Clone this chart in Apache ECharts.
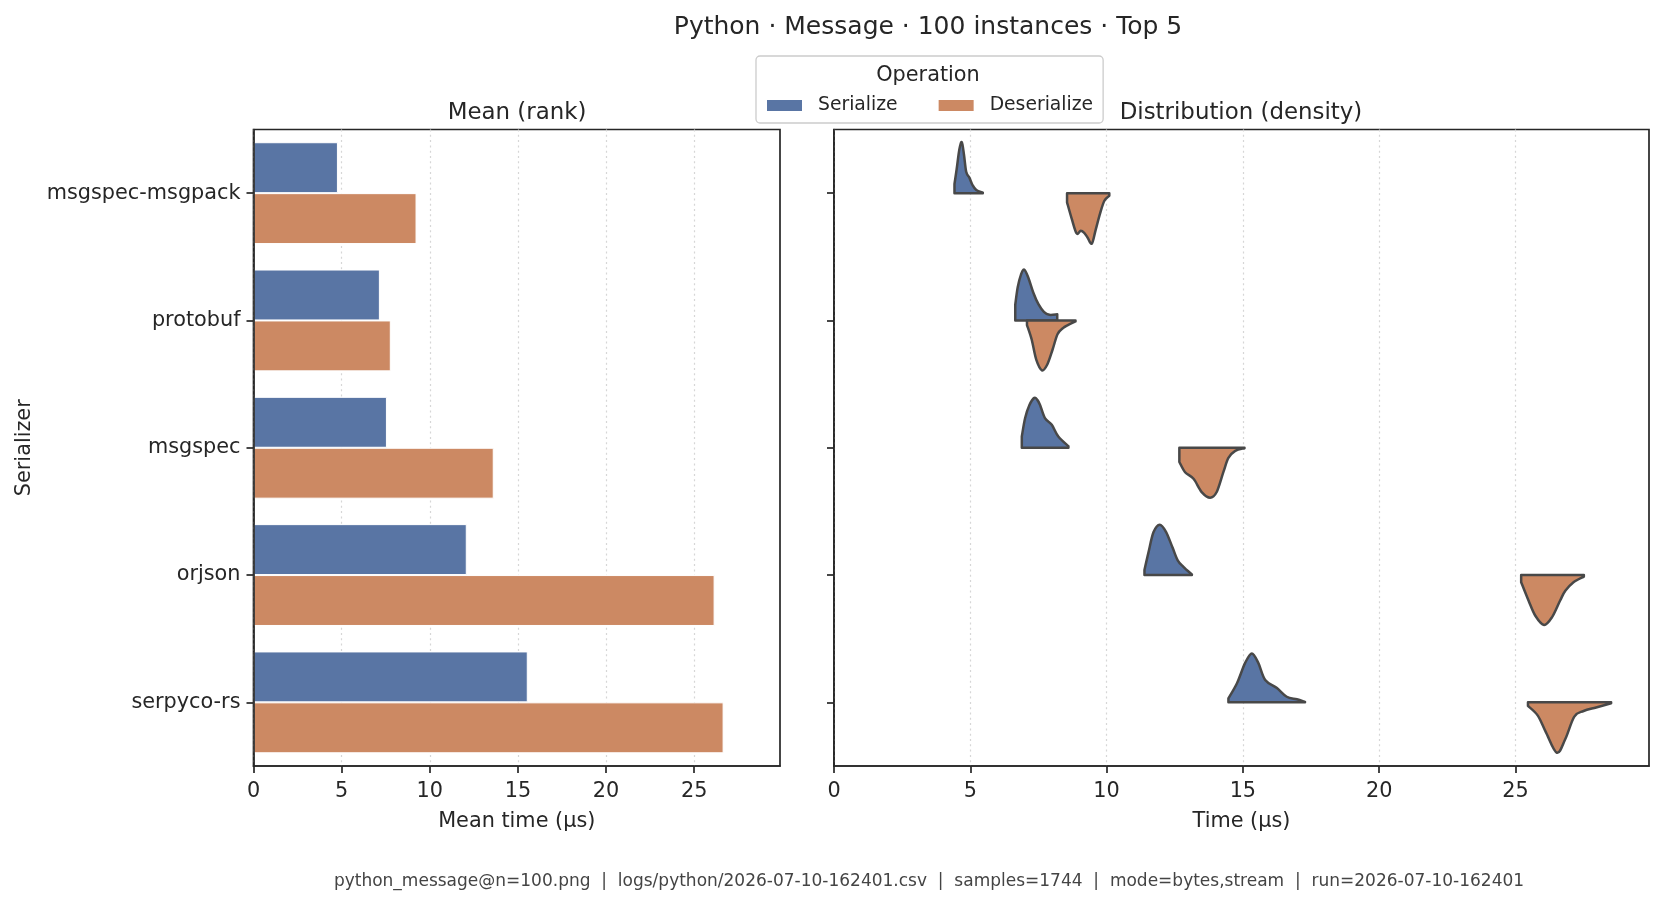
<!DOCTYPE html>
<html lang="en">
<head>
    <meta charset="UTF-8">
    <title>Python Message 100 instances</title>
    <script src="https://cdn.jsdelivr.net/npm/echarts@6.0.0/dist/echarts.min.js"></script>
    <style>
        html, body { margin: 0; padding: 0; background: #fff; }
    </style>
</head>
<body>
    <div id="chart" style="width: 1663px; height: 905px;"></div>
    <script>
        // categories and means (µs)
        const serializers = ['msgspec-msgpack', 'protobuf', 'msgspec', 'orjson', 'serpyco-rs'];
        const meanSerialize = [4.79, 7.17, 7.57, 12.10, 15.56];
        const meanDeserialize = [9.25, 7.79, 13.63, 26.16, 26.67];
        const xTicks = [0, 5, 10, 15, 20, 25];

        // density profiles: x = time (µs), d = relative density (peak = 1)
        const serializeX = [
            [4.42, 4.50, 4.60, 4.69, 4.77, 4.85, 4.97, 5.08, 5.22, 5.46],
            [6.65, 6.74, 6.86, 6.98, 7.13, 7.31, 7.50, 7.70, 7.90, 8.19],
            [6.89, 7.01, 7.17, 7.35, 7.46, 7.56, 7.74, 7.99, 8.23, 8.60],
            [11.39, 11.54, 11.72, 11.95, 12.18, 12.42, 12.61, 12.82, 13.13],
            [14.47, 14.78, 15.08, 15.33, 15.57, 15.82, 16.25, 16.61, 16.98, 17.28]
        ];
        const serializeD = [
            [0.18, 0.47, 0.86, 1.00, 0.75, 0.42, 0.30, 0.16, 0.06, 0.01],
            [0.31, 0.65, 0.90, 1.00, 0.84, 0.55, 0.32, 0.17, 0.11, 0.12],
            [0.22, 0.58, 0.84, 0.98, 0.94, 0.84, 0.58, 0.45, 0.22, 0.03],
            [0.10, 0.45, 0.84, 0.99, 0.85, 0.54, 0.29, 0.16, 0.01],
            [0.08, 0.37, 0.77, 0.96, 0.77, 0.44, 0.28, 0.11, 0.06, 0.01]
        ];
        const deserializeX = [
            [8.55, 8.72, 8.90, 9.05, 9.18, 9.30, 9.46, 9.60, 9.76, 9.92, 10.10],
            [7.08, 7.25, 7.42, 7.63, 7.82, 8.02, 8.20, 8.40, 8.58, 8.86],
            [12.67, 12.88, 13.19, 13.49, 13.80, 14.04, 14.29, 14.47, 14.72, 15.06],
            [25.21, 25.48, 25.73, 26.05, 26.34, 26.64, 26.83, 27.13, 27.51],
            [25.46, 25.82, 26.12, 26.52, 26.83, 27.16, 27.50, 27.96, 28.51]
        ];
        const deserializeD = [
            [0.18, 0.50, 0.79, 0.74, 0.78, 0.87, 0.99, 0.72, 0.40, 0.15, 0.05],
            [0.09, 0.37, 0.77, 0.98, 0.87, 0.57, 0.27, 0.15, 0.09, 0.02],
            [0.28, 0.48, 0.61, 0.87, 0.98, 0.87, 0.47, 0.20, 0.06, 0.01],
            [0.14, 0.50, 0.80, 0.98, 0.83, 0.50, 0.31, 0.14, 0.03],
            [0.07, 0.26, 0.59, 0.99, 0.72, 0.28, 0.17, 0.10, 0.02]
        ];

        const blue = '#5975a4';
        const orange = '#cc8963';
        const ink = '#262626';
        const font = 'DejaVu Sans';

        // half violin: side -1 draws above the category line, +1 below
        function violin(xs, ds, side, color) {
            return function (params, api) {
                const i = params.dataIndex;
                const x = xs[i], d = ds[i];
                const half = api.size([0, 1])[1] * 0.4;
                const base = api.coord([x[0], i])[1];
                const pts = x.map((v, k) => {
                    const p = api.coord([v, i]);
                    return [p[0], base + side * half * d[k]];
                });
                const n = pts.length;
                let s = 'M' + pts[0][0] + ',' + base + 'L' + pts[0][0] + ',' + pts[0][1];
                for (let k = 0; k < n - 1; k++) {
                    const p0 = pts[Math.max(k - 1, 0)], p1 = pts[k], p2 = pts[k + 1], p3 = pts[Math.min(k + 2, n - 1)];
                    const c1x = p1[0] + (p2[0] - p0[0]) / 6, c1y = p1[1] + (p2[1] - p0[1]) / 6;
                    const c2x = p2[0] - (p3[0] - p1[0]) / 6, c2y = p2[1] - (p3[1] - p1[1]) / 6;
                    s += 'C' + c1x + ',' + c1y + ',' + c2x + ',' + c2y + ',' + p2[0] + ',' + p2[1];
                }
                s += 'L' + pts[n - 1][0] + ',' + base + 'Z';
                return {
                    type: 'path',
                    shape: { pathData: s },
                    style: { fill: color, stroke: '#484848', lineWidth: 2.5, lineJoin: 'round' }
                };
            };
        }

        function xAxisOf(grid, max, name) {
            return {
                type: 'value', gridIndex: grid, min: 0, max: max, interval: 5,
                name: name, nameLocation: 'middle', nameGap: 45,
                nameTextStyle: { fontFamily: font, fontSize: 20.8, color: ink },
                axisLine: { show: true, onZero: false, lineStyle: { color: ink, width: 1.7 } },
                axisTick: { show: true, length: 7, customValues: xTicks, lineStyle: { color: ink, width: 1.7 } },
                axisLabel: { customValues: xTicks, margin: 15, fontFamily: font, fontSize: 20.8, color: ink },
                splitLine: { show: true, lineStyle: { type: [2, 3.3], color: '#d6d6d6', width: 1.2 } }
            };
        }

        function yAxisOf(grid, labels) {
            return {
                type: 'category', gridIndex: grid, data: serializers, inverse: true, z: 10,
                name: labels ? 'Serializer' : '', nameLocation: 'middle', nameGap: 218,
                nameTextStyle: { fontFamily: font, fontSize: 20.8, color: ink },
                axisLine: { show: true, lineStyle: { color: ink, width: 1.7 } },
                axisTick: { show: true, alignWithLabel: true, length: 7, lineStyle: { color: ink, width: 1.7 } },
                axisLabel: { show: labels, margin: 13, fontFamily: font, fontSize: 20.8, color: ink },
                splitLine: { show: false }
            };
        }

        const gridFrame = { show: true, borderColor: ink, borderWidth: 1.7, backgroundColor: 'transparent' };

        const option = {
            animation: false,
            backgroundColor: '#ffffff',
            title: [
                { text: 'Python · Message · 100 instances · Top 5', left: 928, top: 27, textAlign: 'center', textVerticalAlign: 'middle', padding: 0,
                  textStyle: { fontFamily: font, fontSize: 25, fontWeight: 'normal', color: ink } },
                { text: 'Mean (rank)', left: 517, top: 113, textAlign: 'center', textVerticalAlign: 'middle', padding: 0,
                  textStyle: { fontFamily: font, fontSize: 22.9, fontWeight: 'normal', color: ink } },
                { text: 'Distribution (density)', left: 1241, top: 113, textAlign: 'center', textVerticalAlign: 'middle', padding: 0,
                  textStyle: { fontFamily: font, fontSize: 22.9, fontWeight: 'normal', color: ink } },
                { text: 'Operation', left: 928, top: 76, textAlign: 'center', textVerticalAlign: 'middle', padding: 0,
                  textStyle: { fontFamily: font, fontSize: 20.8, fontWeight: 'normal', color: ink } },
                { text: 'python_message@n=100.png  |  logs/python/2026-07-10-162401.csv  |  samples=1744  |  mode=bytes,stream  |  run=2026-07-10-162401',
                  left: 929, top: 882, textAlign: 'center', textVerticalAlign: 'middle', padding: 0,
                  textStyle: { fontFamily: font, fontSize: 17, fontWeight: 'normal', color: '#444444' } }
            ],
            legend: {
                data: ['Serialize', 'Deserialize'],
                left: 756, top: 56, orient: 'horizontal',
                padding: [40, 10, 8, 9],
                icon: 'rect', itemWidth: 37, itemHeight: 13, itemGap: 39,
                borderColor: '#cccccc', borderWidth: 1.3, borderRadius: 4, backgroundColor: '#ffffff',
                textStyle: { fontFamily: font, fontSize: 18.75, color: ink, padding: [0, 0, 0, 10] }
            },
            grid: [
                Object.assign({ left: 253.5, top: 129.5, width: 526.5, height: 636.5 }, gridFrame),
                Object.assign({ left: 834, top: 129.5, width: 815, height: 636.5 }, gridFrame)
            ],
            xAxis: [xAxisOf(0, 29.87, 'Mean time (µs)'), xAxisOf(1, 29.9, 'Time (µs)')],
            yAxis: [yAxisOf(0, true), yAxisOf(1, false)],
            series: [
                {
                    name: 'Serialize', type: 'bar', xAxisIndex: 0, yAxisIndex: 0,
                    data: meanSerialize, barCategoryGap: '20%', barGap: '0%',
                    itemStyle: { color: blue, borderColor: '#ffffff', borderWidth: 1 }
                },
                {
                    name: 'Deserialize', type: 'bar', xAxisIndex: 0, yAxisIndex: 0,
                    data: meanDeserialize, barCategoryGap: '20%', barGap: '0%',
                    itemStyle: { color: orange, borderColor: '#ffffff', borderWidth: 1 }
                },
                {
                    name: 'Serialize', type: 'custom', xAxisIndex: 1, yAxisIndex: 1, z: 3,
                    data: serializers.map((s, i) => [serializeX[i][0], i]),
                    encode: { x: 0, y: 1 },
                    itemStyle: { color: blue },
                    renderItem: violin(serializeX, serializeD, -1, blue)
                },
                {
                    name: 'Deserialize', type: 'custom', xAxisIndex: 1, yAxisIndex: 1, z: 3,
                    data: serializers.map((s, i) => [deserializeX[i][0], i]),
                    encode: { x: 0, y: 1 },
                    itemStyle: { color: orange },
                    renderItem: violin(deserializeX, deserializeD, 1, orange)
                }
            ]
        };

        const myChart = echarts.init(document.getElementById('chart'));
        myChart.setOption(option);
    </script>
</body>
</html>
